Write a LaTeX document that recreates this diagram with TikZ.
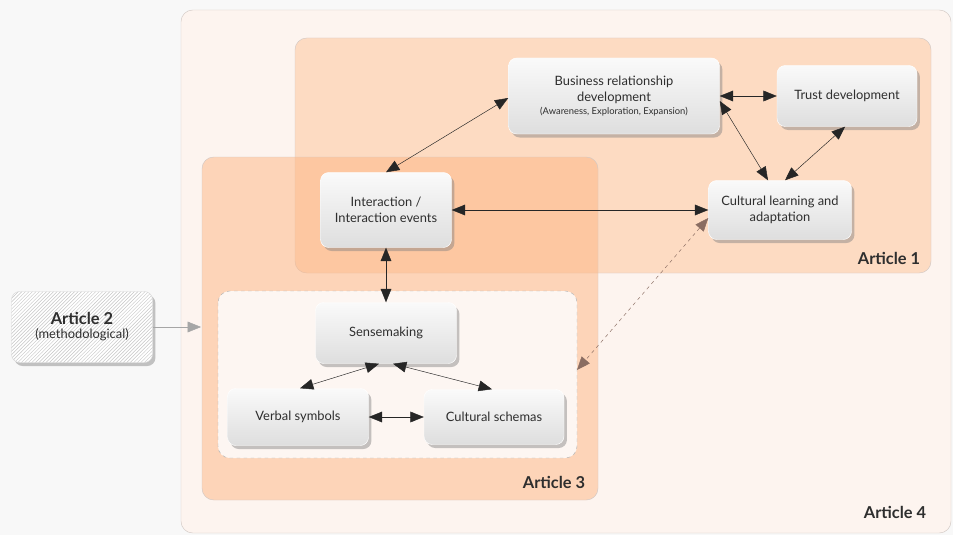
\documentclass[tikz,border=0pt]{standalone}
\usepackage{fontspec}
\setmainfont{Lato}
\usetikzlibrary{arrows.meta,shadows,patterns,calc}

\definecolor{pagegray}{HTML}{F8F8F8}
\definecolor{artfour}{HTML}{FDF4EF}
\definecolor{artone}{HTML}{FDDBC2}
\definecolor{artthree}{HTML}{FDB582}
\definecolor{innerbox}{HTML}{FDF6F2}
\definecolor{framegray}{HTML}{D2C8C4}
\definecolor{textdark}{HTML}{2E2E2E}
\definecolor{dashbrown}{HTML}{8A6D62}

\tikzset{
  concept/.style={rounded corners=7pt, top color=gray!4, bottom color=gray!26,
    draw=white, align=center, text=textdark, font=\fontsize{11}{13.5}\selectfont,
    drop shadow={shadow xshift=2.5pt, shadow yshift=-3pt, opacity=0.45}},
  link/.style={{Triangle[length=4mm,width=3.2mm]}-{Triangle[length=4mm,width=3.2mm]}, black!85, thin},
  artlabel/.style={font=\fontsize{14}{16}\selectfont\bfseries, text=textdark},
}

\begin{document}
\begin{tikzpicture}[x=0.03cm,y=-0.03cm]
	\useasboundingbox[fill=pagegray] (0,0) rectangle (953,535);
	% article frames
	\draw[framegray, fill=artfour, rounded corners=10pt] (181,10) rectangle (951,533);
	\draw[framegray, fill=artone, rounded corners=10pt] (295,38) rectangle (931,273);
	\draw[framegray, fill=artthree, fill opacity=0.5, rounded corners=10pt] (202,157) rectangle (598,500);
	\draw[gray!60, dashed, fill=innerbox, rounded corners=10pt] (218,291) rectangle (577,458);
	\coordinate (innerR) at (577,370);
	\coordinate (artthreeL) at (201,327);

	\node[artlabel] (lblone) at (889,258) {Article 1};
	\node[artlabel] (lblthree) at (554,482) {Article 3};
	\node[artlabel] (lblfour) at (895,512) {Article 4};

	% article 2
	\node[rounded corners=7pt, fill=white, minimum width=4.23cm, minimum height=2.13cm,
	  drop shadow={shadow xshift=2.5pt, shadow yshift=-3pt, opacity=0.45}] (arttwobg) at (82,327) {};
	\node[rounded corners=7pt, pattern=north east lines, pattern color=gray!45, draw=gray!30,
	  minimum width=4.23cm, minimum height=2.13cm, align=center, text=textdark] (arttwo) at (82,327)
	  {{\fontsize{14}{15}\selectfont\bfseries Article 2}\\{\fontsize{11}{13}\selectfont(methodological)}};

	% concepts
	\node[concept, minimum width=6.33cm, minimum height=2.28cm] (business) at (614,96)
	  {Business relationship\\development\\[-2pt]{\fontsize{8}{10}\selectfont (Awareness, Exploration, Expansion)}};
	\node[concept, minimum width=4.2cm, minimum height=1.83cm] (trust) at (847,96) {Trust development};
	\node[concept, minimum width=3.93cm, minimum height=2.25cm] (interact) at (386,210) {Interaction /\\Interaction events};
	\node[concept, minimum width=4.29cm, minimum height=1.77cm] (culture) at (780,210) {Cultural learning and\\adaptation};
	\node[concept, minimum width=4.23cm, minimum height=1.83cm] (sense) at (386,333) {Sensemaking};
	\node[concept, minimum width=4.23cm, minimum height=1.71cm] (verbal) at (298,417) {Verbal symbols};
	\node[concept, minimum width=4.2cm, minimum height=1.65cm] (schema) at (494,417) {Cultural schemas};

	% connectors
	\draw[link] (interact.north) -- ($(business.west)+(0,2)$);
	\draw[link] (business.east) -- (trust.west);
	\draw[link] ($(business.east)+(0,5)$) -- ($(culture.north)+(-12,0)$);
	\draw[link] ($(trust.south)+(-2,0)$) -- ($(culture.north)+(5,0)$);
	\draw[link] (interact.east) -- (culture.west);
	\draw[link] (interact.south) -- (sense.north);
	\draw[link] ($(sense.south)+(-7,0)$) -- ($(verbal.north)+(2,0)$);
	\draw[link] ($(sense.south)+(7,0)$) -- ($(schema.north)+(-2,0)$);
	\draw[link] (verbal.east) -- (schema.west);
	\draw[{Triangle[length=4mm,width=3.2mm]}-{Triangle[length=4mm,width=3.2mm]}, dashbrown, dashed]
	  ($(culture.west)+(0,8)$) -- (innerR);
	\draw[-{Triangle[length=4mm,width=3.2mm]}, gray!70] (arttwo.east) -- (artthreeL);
\end{tikzpicture}
\end{document}
